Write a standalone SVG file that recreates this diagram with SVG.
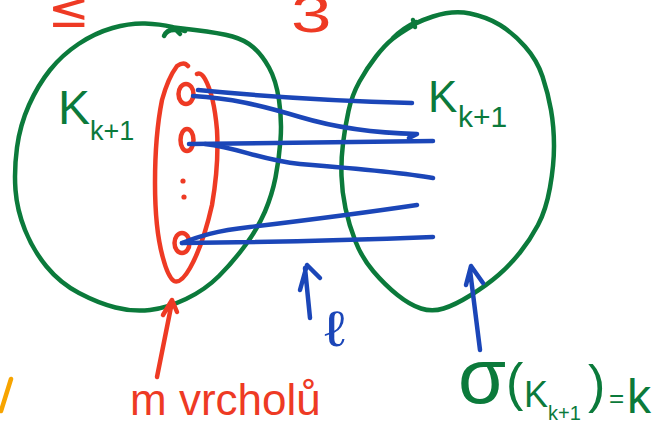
<svg xmlns="http://www.w3.org/2000/svg" width="661" height="426" viewBox="0 0 661 426">
<style>
.g{fill:none;stroke:#0b7a3b;stroke-width:4.5;stroke-linecap:round;stroke-linejoin:round}
.r{fill:none;stroke:#ee3a24;stroke-width:4.5;stroke-linecap:round;stroke-linejoin:round}
.b{fill:none;stroke:#1b46b8;stroke-width:4.5;stroke-linecap:round;stroke-linejoin:round}
.o{fill:none;stroke:#f7a400;stroke-width:4.5;stroke-linecap:round}
.tg{fill:#0b7a3b;font-family:"Liberation Sans",Arial,sans-serif}
.tr{fill:#ee3a24;font-family:"Liberation Sans",Arial,sans-serif}
.tb{fill:#1b46b8;font-family:"Liberation Sans",Arial,sans-serif}
.tm{fill:#ee3a24;font-family:"DejaVu Sans",sans-serif}
</style>
<rect width="661" height="426" fill="#ffffff"/>

<g id="left-set">
<path class="g" d="M170,27 L195,30 Q220,33 232.5,36.5 Q245,40 253.5,47.5 Q262,55 269,67.5 Q276,80 279,100 Q282,120 280.5,140 Q279,160 275.5,177.5 Q272,195 265,211.5 Q258,228 245.5,245 Q233,262 219,276 Q205,290 186,299 Q167,308 150,310 Q133,312 115.5,307.5 Q98,303 79,293 Q60,283 46.5,266.5 Q33,250 25,230 Q17,210 15.5,190 Q14,170 17,147.5 Q20,125 29,105 Q38,85 50,70 Q62,55 78.5,44 Q95,33 112.5,28 Q130,23 145,23.5 Q160,24 172,27 L185,31"/>
<path class="g" d="M164,36 Q167,29 176,30 L180,34"/>
<text class="tg" x="58" y="124" font-size="48">K</text>
<text class="tg" x="90" y="140" font-size="27">k+1</text>
</g>

<g id="right-set">
<path class="g" d="M403,31.5 Q413,23 433,16.5 Q453,10 470,13.5 Q487,17 500,25 Q513,33 525,46.5 Q537,60 542.5,76.5 Q548,93 551,110 Q554,127 554,146 Q554,165 550,187.5 Q546,210 538,225 Q530,240 520,252.5 Q510,265 498.5,275 Q487,285 471,295 Q455,305 443.5,308.5 Q432,312 421,308.5 Q410,305 397.5,295 Q385,285 373.5,271.5 Q362,258 355.5,241.5 Q349,225 345.5,208.5 Q342,192 341.5,176 Q341,160 343,143.5 Q345,127 348.5,111 Q352,95 359.5,81.5 Q367,68 376,56.5 Q385,45 392.5,39 Q400,33 412,26"/>
<path class="g" d="M393,38 Q403,28 416,22 M413,20 L415,27"/>
<text class="tg" x="428" y="112" font-size="44">K</text>
<text class="tg" x="458" y="127" font-size="30">k+1</text>
</g>

<g id="vertex-set">
<path class="r" d="M188,66 Q184,61 177,66 Q168,78 162,100 Q155,135 155,183 Q155,230 163,258 Q168,277 174,281 Q181,284 190,268 Q203,245 212,205 Q219,165 217,130 Q214,95 205,79 Q201,72 197,74"/>
<ellipse class="r" cx="186" cy="94" rx="7.5" ry="10"/>
<ellipse class="r" cx="187" cy="140" rx="6.5" ry="11"/>
<circle cx="183" cy="181" r="2.6" fill="#ee3a24"/>
<circle cx="184" cy="197" r="2.6" fill="#ee3a24"/>
<ellipse class="r" cx="182" cy="243" rx="7.5" ry="10"/>
</g>

<g id="connectors">
<path class="b" d="M198,90 Q300,100 412,103"/>
<path class="b" d="M193,96 C230,98 260,105 300,117 C330,126 370,133 417,134 L409,138"/>
<path class="b" d="M189,144 Q310,142 433,141"/>
<path class="b" d="M205,144 C240,148 260,160 300,164 C350,168 400,172 433,178"/>
<path class="b" d="M182,243 C200,236 215,231 250,227 C300,221 370,212 417,205"/>
<path class="b" d="M182,243 Q300,242 433,237"/>
</g>

<g id="arrows">
<path class="r" d="M157,377 L172,302 M163,315 L172,300 L177,312"/>
<path class="b" d="M310,318 L305,268 M300,290 L307,265 L320,278"/>
<path class="b" d="M480,350 L470,270 M466,285 L471,266 L483,283"/>
</g>

<g id="labels">
<text class="tr" x="130" y="415" font-size="44">m vrcholů</text>
<text class="tb" transform="translate(324,346) scale(1.3,1)" font-size="50">ℓ</text>
<text class="tg"><tspan x="458" y="403" font-size="78">σ</tspan><tspan x="506" y="400" font-size="52">(</tspan><tspan x="524" y="407" font-size="36">K</tspan><tspan x="548" y="420" font-size="20">k+1</tspan><tspan x="588" y="402" font-size="52">)</tspan><tspan x="609" y="407" font-size="26">=</tspan><tspan x="627" y="413" font-size="48">k</tspan></text>
<text class="tm" x="48" y="27" font-size="50">≤</text>
<text class="tr" transform="translate(291,32) scale(1.4,1)" font-size="52">3</text>
<path class="o" d="M11,379 Q6,395 1,411"/>
</g>
</svg>
